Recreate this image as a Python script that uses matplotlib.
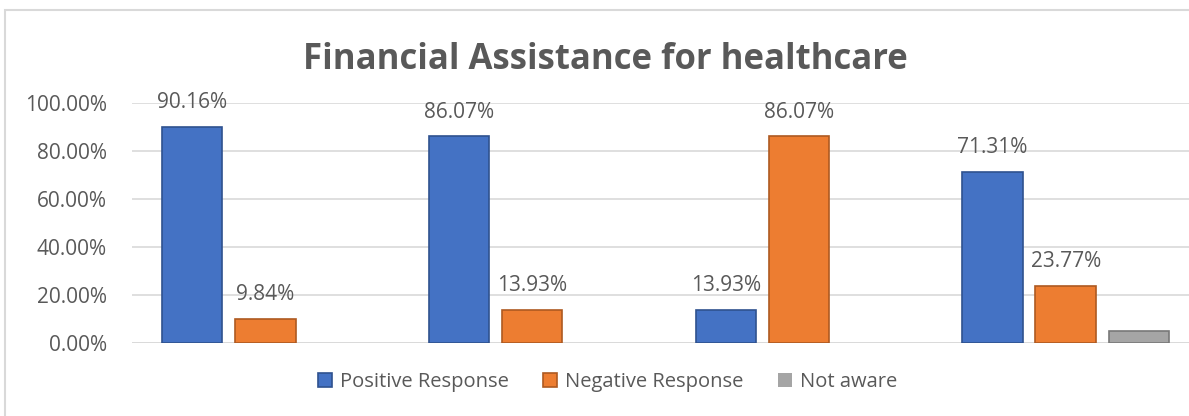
import matplotlib
matplotlib.use("Agg")
import matplotlib.pyplot as plt
from matplotlib.patches import Rectangle
import numpy as np

title = "Financial Assistance for healthcare"
series_names = ["Positive Response", "Negative Response", "Not aware"]
positive = [90.16, 86.07, 13.93, 71.31]
negative = [9.84, 13.93, 86.07, 23.77]
not_aware = [0.0, 0.0, 0.0, 4.92]
yticks = [0, 20, 40, 60, 80, 100]

colors = ["#4472C4", "#ED7D31", "#A5A5A5"]
edges = ["#2F528F", "#AE5A21", "#787878"]
text_color = "#595959"

plt.rcParams['font.family'] = ['Open Sans', 'DejaVu Sans']

fig = plt.figure(figsize=(11.89, 4.16), dpi=100)
ax = fig.add_axes([132 / 1189, 0.1755, 1067 / 1189, 0.577])

x = np.arange(len(positive))
width = 0.226
offsets = [-0.274, 0.0, 0.274]
all_series = [positive, negative, not_aware]
for i, (vals, off) in enumerate(zip(all_series, offsets)):
    bars = ax.bar(x + off, vals, width, color=colors[i], edgecolor=edges[i],
                  linewidth=1.2, label=series_names[i], zorder=3)
    for b, v in zip(bars, vals):
        if v <= 0:
            b.set_linewidth(0)
    if i < 2:
        for b, v in zip(bars, vals):
            if v > 0:
                ax.annotate(f"{v:.2f}%", (b.get_x() + b.get_width() / 2, v),
                            xytext=(0, 10), textcoords="offset points",
                            ha="center", va="bottom", fontsize=15,
                            color=text_color)

ax.set_xlim(-0.5, 3.5)
ax.set_ylim(0, 100)
ax.set_yticks(yticks)
ax.set_yticklabels([f"{t:.2f}%" for t in yticks], fontsize=15, color=text_color)
ax.set_xticks([])
ax.yaxis.grid(True, color="#D9D9D9", linewidth=1.2, zorder=0)
ax.tick_params(axis="y", length=0, pad=18)
for s in ax.spines.values():
    s.set_visible(False)
ax.axhline(0, color="#D9D9D9", linewidth=1.2, zorder=2)

fig.text(0.509, 0.855, title, ha="center", va="center", fontsize=25,
         fontweight="bold", color=text_color)

leg = fig.legend(loc="center", bbox_to_anchor=(0.511, 0.082), ncol=3,
                 frameon=False, fontsize=14.5, handlelength=0.7, handleheight=0.7,
                 columnspacing=1.7, handletextpad=0.4)
for t in leg.get_texts():
    t.set_color(text_color)

fig.patches.append(Rectangle((5 / 1189, -0.1), 1.2, 1.1 - 10 / 416,
                             transform=fig.transFigure, fill=False,
                             edgecolor="#D9D9D9", linewidth=1.5))

fig.savefig("out.png", dpi=100, facecolor="white")
